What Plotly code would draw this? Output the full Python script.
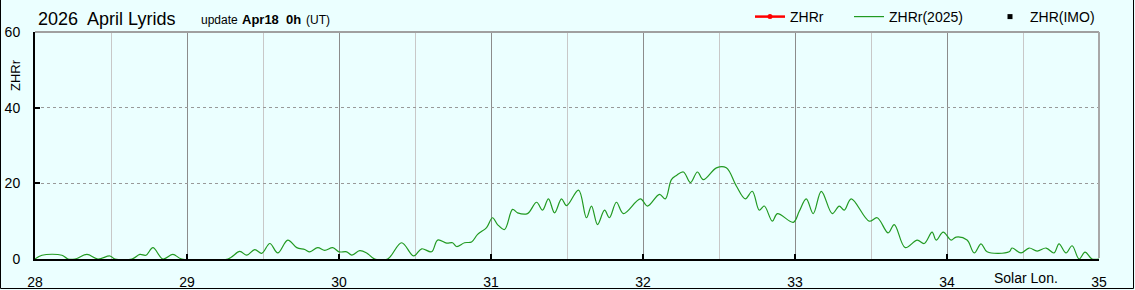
import plotly.graph_objects as go

# ---- data ----
solar_lon = [28.000, 28.046, 28.177, 28.217, 28.263, 28.342, 28.414, 28.493, 28.526, 28.638,
             28.690, 28.730, 28.776, 28.841, 28.907, 28.966, 29.269, 29.347, 29.393, 29.446,
             29.492, 29.545, 29.597, 29.663, 29.722, 29.775, 29.808, 29.860, 29.906, 29.959,
             30.000, 30.051, 30.084, 30.136, 30.182, 30.235, 30.320, 30.412, 30.491, 30.544,
             30.609, 30.649, 30.708, 30.747, 30.774, 30.826, 30.872, 30.912, 30.971, 31.010,
             31.043, 31.089, 31.142, 31.175, 31.240, 31.300, 31.339, 31.378, 31.418, 31.464,
             31.497, 31.576, 31.628, 31.661, 31.701, 31.747, 31.779, 31.825, 31.871, 31.983,
             32.029, 32.108, 32.147, 32.187, 32.220, 32.266, 32.312, 32.358, 32.397, 32.483,
             32.548, 32.614, 32.673, 32.719, 32.765, 32.798, 32.851, 32.884, 32.989, 33.028,
             33.074, 33.120, 33.173, 33.245, 33.291, 33.324, 33.370, 33.488, 33.541, 33.613,
             33.653, 33.725, 33.804, 33.850, 33.902, 33.929, 33.975, 34.027, 34.060, 34.132,
             34.179, 34.224, 34.264, 34.409, 34.428, 34.487, 34.540, 34.593, 34.652, 34.704,
             34.737, 34.783, 34.823, 34.869, 34.908, 34.954, 35.000]
zhr_2025 = [0.0, 1.0, 1.0, 0.0, 0.0, 1.2, 0.0, 0.8, 0.0, 0.0,
            1.2, 1.0, 3.0, 0.0, 1.2, 0.0, 0.0, 2.0, 1.0, 2.5,
            1.5, 4.1, 1.6, 5.0, 3.0, 2.5, 1.9, 3.0, 2.3, 3.0,
            1.9, 1.9, 1.0, 2.2, 1.6, 0.0, 0.0, 4.3, 0.8, 2.7,
            1.9, 5.0, 4.2, 4.3, 3.3, 4.3, 4.5, 6.5, 8.3, 10.9,
            9.1, 7.8, 13.1, 12.2, 12.0, 15.0, 12.9, 15.9, 12.2, 15.9,
            14.1, 18.2, 10.9, 14.0, 9.1, 12.9, 10.9, 15.0, 12.0, 15.9,
            14.0, 17.1, 15.9, 21.0, 22.1, 23.0, 20.2, 23.0, 21.0, 24.1,
            24.1, 19.3, 15.9, 17.9, 12.9, 14.0, 10.0, 12.0, 9.7, 12.6,
            15.9, 12.0, 17.9, 12.0, 14.0, 12.9, 15.9, 10.0, 10.9, 6.9,
            9.1, 3.0, 5.0, 4.1, 7.1, 5.0, 7.1, 5.0, 5.8, 5.0,
            1.6, 4.0, 1.9, 1.9, 2.9, 1.6, 2.9, 2.1, 2.9, 1.6,
            4.0, 1.6, 3.5, 0.0, 1.8, 0.0, 0.0]
x_ticks = [28, 29, 30, 31, 32, 33, 34, 35]
y_ticks = [0, 20, 40, 60]

BG = "#EBFFFF"
FONT = "Liberation Sans"
W, H = 1135, 290
L, R, T, B = 35, 36, 32, 31
PW, PH = W - L - R, H - T - B


def px(xp):
    return (xp - L) / PW


def py(yp):
    return (H - B - yp) / PH


fig = go.Figure()
fig.add_trace(go.Scatter(x=solar_lon, y=zhr_2025, mode="lines",
                         line=dict(color="#229a22", width=1.2, shape="spline", smoothing=1.0),
                         name="ZHRr(2025)", legend="legend2"))
fig.add_trace(go.Scatter(x=[None], y=[None], mode="lines+markers", name="ZHRr",
                         line=dict(color="#ff0000", width=2.5), marker=dict(color="#ff0000", size=5),
                         legend="legend"))
fig.add_trace(go.Scatter(x=[None], y=[None], mode="markers", name="ZHR(IMO)",
                         marker=dict(color="#000000", size=5, symbol="square"), legend="legend3"))

leg_common = dict(orientation="h", xref="container", yref="container", yanchor="middle", y=1 - 17 / H,
                  xanchor="left", bgcolor="rgba(0,0,0,0)", borderwidth=0,
                  font=dict(family=FONT, size=14, color="#000"))
fig.update_layout(
    width=W, height=H, margin=dict(l=L, r=R, t=T, b=B, autoexpand=False),
    paper_bgcolor=BG, plot_bgcolor=BG, showlegend=True,
    legend=dict(x=750 / W, **leg_common),
    legend2=dict(x=849 / W, **leg_common),
    legend3=dict(x=990 / W, **leg_common),
    xaxis=dict(range=[28, 35], tickvals=x_ticks, ticktext=[str(v) for v in x_ticks],
               showgrid=True, gridcolor="#8c8c8c", gridwidth=1,
               minor=dict(dtick=0.5, showgrid=True, gridcolor="#c8c8c8", gridwidth=1),
               showline=True, linecolor="#000", linewidth=2, ticks="inside", ticklen=5, tickwidth=2,
               tickcolor="#000", zeroline=False, tickfont=dict(family=FONT, size=14, color="#000"),
               ticklabelstandoff=9, fixedrange=True, automargin=False),
    yaxis=dict(range=[0, 60], tickvals=y_ticks, showgrid=True, gridcolor="#999999", griddash="dot",
               gridwidth=1, showline=True, linecolor="#000", linewidth=2, ticks="inside", ticklen=5,
               tickwidth=2, tickcolor="#000", zeroline=False,
               tickfont=dict(family=FONT, size=14, color="#000"), ticklabelstandoff=10,
               fixedrange=True, automargin=False),
)

shapes = [
    # plot frame top / right (grey)
    dict(type="line", xref="paper", yref="paper", x0=0, x1=1, y0=1, y1=1, line=dict(color="#a0a0a0", width=2)),
    dict(type="line", xref="paper", yref="paper", x0=1, x1=1, y0=py(258), y1=1, line=dict(color="#a8a8a8", width=2)),
    # outer border
    dict(type="line", xref="paper", yref="paper", x0=px(0.5), x1=px(0.5), y0=py(0), y1=py(288.5), line=dict(color="#000", width=1)),
    dict(type="line", xref="paper", yref="paper", x0=px(1133.5), x1=px(1133.5), y0=py(0), y1=py(288.5), line=dict(color="#000", width=1)),
    dict(type="line", xref="paper", yref="paper", x0=px(0.5), x1=px(1133.5), y0=py(288.5), y1=py(288.5), line=dict(color="#000", width=1)),
]
fig.update_layout(shapes=shapes)

ann = [
    dict(text="2026\u00a0 April Lyrids", x=px(36), y=py(19), xanchor="left", yanchor="middle",
         font=dict(family=FONT, size=18, color="#000")),
    dict(text="update", x=px(199), y=py(20), xanchor="left", yanchor="middle",
         font=dict(family=FONT, size=12, color="#000")),
    dict(text="<b>Apr18\u00a0 0h</b>", x=px(240), y=py(19), xanchor="left", yanchor="middle",
         font=dict(family=FONT, size=13, color="#000")),
    dict(text="(UT)", x=px(304), y=py(20), xanchor="left", yanchor="middle",
         font=dict(family=FONT, size=12, color="#000")),
    dict(text="ZHRr", x=px(15), y=py(75), xanchor="center", yanchor="middle", textangle=-90,
         font=dict(family=FONT, size=13, color="#000")),
    dict(text="Solar Lon.", x=px(992), y=py(278), xanchor="left", yanchor="middle",
         font=dict(family=FONT, size=14, color="#000")),
]
for a in ann:
    a.update(xref="paper", yref="paper", showarrow=False)
fig.update_layout(annotations=ann)

fig.write_html("out.html")
